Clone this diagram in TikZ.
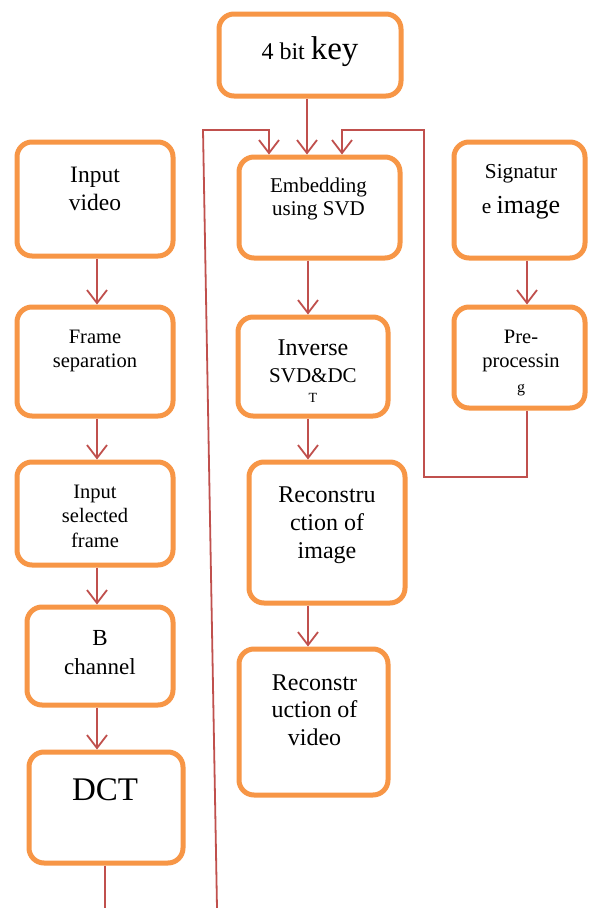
\documentclass[tikz,border=0pt]{standalone}
\usepackage{fontspec}
\setmainfont{Liberation Serif}
\usetikzlibrary{arrows.meta}
\definecolor{boxorange}{HTML}{F79646}
\definecolor{linered}{HTML}{C0504D}
\tikzset{
  box/.style={draw=boxorange, line width=5pt, rounded corners=15pt, fill=white, inner sep=0pt},
  txt/.style={anchor=base, align=center, inner sep=0pt, text=black},
  conn/.style={draw=linered, line width=1.8pt},
  arr/.style={conn, -{Straight Barb[length=13pt,width=20pt,line width=1.8pt]}}
}
\newcommand{\fs}[2]{\fontsize{#1}{#2}\selectfont}
\begin{document}
\begin{tikzpicture}[x=1pt,y=-1pt]
\useasboundingbox (0,0) rectangle (593,908);
\fill[white] (0,0) rectangle (593,908);
% boxes
\node[box, minimum width=182pt, minimum height=82pt] (key) at (310,55) {};
\node[box, minimum width=161pt, minimum height=101pt] (emb) at (319.5,207.5) {};
\node[box, minimum width=156pt, minimum height=114pt] (vid) at (95,199) {};
\node[box, minimum width=156pt, minimum height=109pt] (frm) at (95,361.5) {};
\node[box, minimum width=156pt, minimum height=103pt] (sel) at (95,513.5) {};
\node[box, minimum width=146pt, minimum height=98pt] (bch) at (100,656) {};
\node[box, minimum width=154pt, minimum height=111pt] (dct) at (106,807.5) {};
\node[box, minimum width=131pt, minimum height=116pt] (sig) at (519.5,200) {};
\node[box, minimum width=131pt, minimum height=101pt] (pre) at (519.5,357.5) {};
\node[box, minimum width=150pt, minimum height=99pt] (inv) at (313,366.5) {};
\node[box, minimum width=156pt, minimum height=141pt] (rim) at (327,532.5) {};
\node[box, minimum width=149pt, minimum height=146pt] (rvd) at (313.5,722) {};
% texts (anchor = baseline of last line)
\node[txt] (keyt) at (310,59) {\fs{24}{26}4 bit {\fs{33}{36}key}};
\node[txt, font=\fs{21}{23}] (embt) at (318.5,215) {Embedding\\using SVD};
\node[txt, font=\fs{23.5}{28}] (vidt) at (95,210) {Input\\video};
\node[txt, font=\fs{20.5}{24}] (frmt) at (95,367) {Frame\\separation};
\node[txt, font=\fs{20.5}{24.5}] (selt) at (95,547) {Input\\selected\\frame};
\node[txt, font=\fs{23}{29}] (bcht) at (100,674) {B\\channel};
\node[txt, font=\fs{33}{36}] (dctt) at (105,800) {DCT};
\node[txt, font=\fs{21.3}{35}] (sigt) at (521,213) {Signatur\\e {\fs{26}{35}image}};
\node[txt, font=\fs{20.5}{24.5}] (pret) at (521,392) {Pre-\\processin\\{\fs{16}{24.5}g}};
\node[txt, font=\fs{24}{27}] (invt) at (313,402) {Inverse\\{\fs{21}{27}SVD\&DC}\\[-7pt]{\fs{14}{20}T}};
\node[txt, font=\fs{24}{28}] (rimt) at (327,558) {Reconstru\\ction of\\image};
\node[txt, font=\fs{24}{27.5}] (rvdt) at (314.5,745) {Reconstr\\uction of\\video};
% column coordinates
\coordinate (colL) at (97,0);
\coordinate (colM) at (308,0);
\coordinate (colR) at (527,0);
\coordinate (la) at (269,130);
\coordinate (ka) at (307,130);
\coordinate (ra) at (342,130);
\coordinate (tl) at (203,130);
\coordinate (bl) at (217,908);
\coordinate (tr) at (424,130);
\coordinate (br) at (424,477);
\coordinate (dctend) at (105,908);
% connectors
\draw[arr] (key.south -| ka) -- (emb.north -| ka);
\draw[arr] (bl) -- (tl) -- (la) -- (emb.north -| la);
\draw[arr] (pre.south -| colR) -- (br -| colR) -- (br) -- (tr) -- (ra) -- (emb.north -| ra);
\draw[arr] (sig.south -| colR) -- (pre.north -| colR);
\draw[arr] (vid.south -| colL) -- (frm.north -| colL);
\draw[arr] (frm.south -| colL) -- (sel.north -| colL);
\draw[arr] (sel.south -| colL) -- (bch.north -| colL);
\draw[arr] (bch.south -| colL) -- (dct.north -| colL);
\draw[conn] (dct.south -| dctend) -- (dctend);
\draw[arr] (emb.south -| colM) -- (inv.north -| colM);
\draw[arr] (inv.south -| colM) -- (rim.north -| colM);
\draw[arr] (rim.south -| colM) -- (rvd.north -| colM);
\end{tikzpicture}
\end{document}
